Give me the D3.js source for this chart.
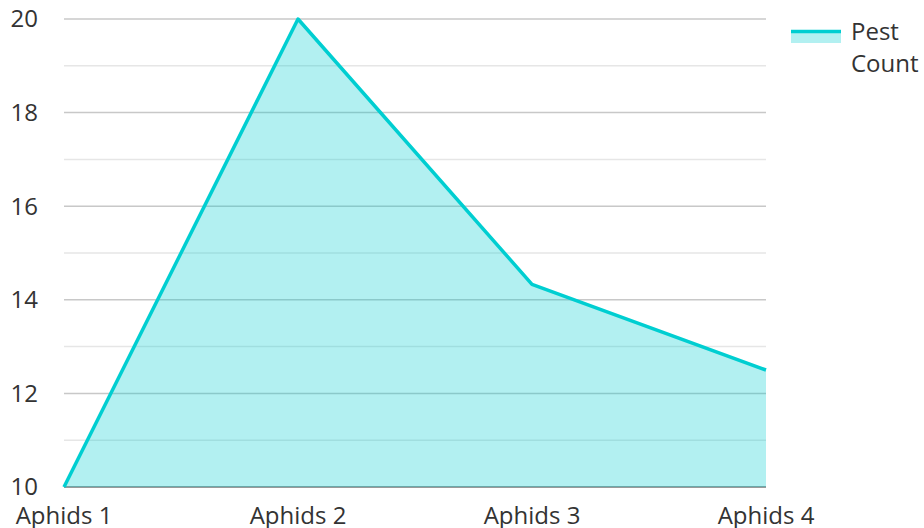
<!DOCTYPE html>
<html>
<head>
  <meta charset="utf-8">
  <title>Pest Count</title>
  <script src="https://d3js.org/d3.v7.min.js"></script>
  <style>
    body { margin: 0; background: #fff; }
    svg text { font-family: "Open Sans", "Noto Sans", sans-serif; fill: #333; }
  </style>
</head>
<body>
  <svg width="924" height="528"></svg>
  <script>
    // data
    var categories = ["Aphids 1", "Aphids 2", "Aphids 3", "Aphids 4"];
    var pestCount = [10, 20, 14.33, 12.5];
    var yTicks = [10, 12, 14, 16, 18, 20];
    var seriesName = ["Pest", "Count"];

    var svg = d3.select("svg");
    var plotLeft = 64, plotRight = 766, plotTop = 19, plotBottom = 487;
    var lineColor = "#00ced1";

    var x = d3.scalePoint().domain(categories).range([plotLeft, plotRight]);
    var y = d3.scaleLinear().domain([10, 20]).range([plotBottom, plotTop]);

    // grid: minor lines on odd values, major on even ones
    var minor = d3.range(11, 20, 2);
    svg.append("g").selectAll("line").data(minor).enter().append("line")
      .attr("x1", plotLeft).attr("x2", plotRight)
      .attr("y1", function (d) { return y(d); }).attr("y2", function (d) { return y(d); })
      .attr("stroke", "#e6e6e6").attr("stroke-width", 1.5);
    svg.append("g").selectAll("line").data(yTicks).enter().append("line")
      .attr("x1", plotLeft).attr("x2", plotRight)
      .attr("y1", function (d) { return y(d); }).attr("y2", function (d) { return y(d); })
      .attr("stroke", function (d) { return d === 10 ? "#999" : "#c8c8c8"; })
      .attr("stroke-width", function (d) { return d === 10 ? 2 : 1.5; });

    // y labels
    svg.append("g").selectAll("text").data(yTicks).enter().append("text")
      .attr("x", 38).attr("y", function (d) { return y(d); })
      .attr("dy", "0.35em")
      .attr("text-anchor", "end")
      .style("font-size", "24px")
      .text(function (d) { return d; });

    // x labels
    svg.append("g").selectAll("text").data(categories).enter().append("text")
      .attr("x", function (d) { return x(d); }).attr("y", 524)
      .attr("text-anchor", "middle")
      .style("font-size", "24px")
      .text(function (d) { return d; });

    var pts = categories.map(function (c, i) { return { c: c, v: pestCount[i] }; });

    var area = d3.area()
      .x(function (d) { return x(d.c); })
      .y0(y(10))
      .y1(function (d) { return y(d.v); });
    svg.append("path").datum(pts)
      .attr("d", area)
      .attr("fill", lineColor).attr("fill-opacity", 0.3);

    var line = d3.line()
      .x(function (d) { return x(d.c); })
      .y(function (d) { return y(d.v); });
    svg.append("path").datum(pts)
      .attr("d", line)
      .attr("fill", "none")
      .attr("stroke", lineColor)
      .attr("stroke-width", 3.5)
      .attr("stroke-linejoin", "round");

    // legend
    var lg = svg.append("g");
    lg.append("rect").attr("x", 791).attr("y", 30).attr("width", 50).attr("height", 13)
      .attr("fill", lineColor).attr("fill-opacity", 0.3);
    lg.append("line").attr("x1", 791).attr("x2", 841).attr("y1", 31.5).attr("y2", 31.5)
      .attr("stroke", lineColor).attr("stroke-width", 3.5);
    lg.selectAll("text").data(seriesName).enter().append("text")
      .attr("x", 851).attr("y", function (d, i) { return 40 + i * 32; })
      .style("font-size", "24px")
      .text(function (d) { return d; });
  </script>
</body>
</html>
